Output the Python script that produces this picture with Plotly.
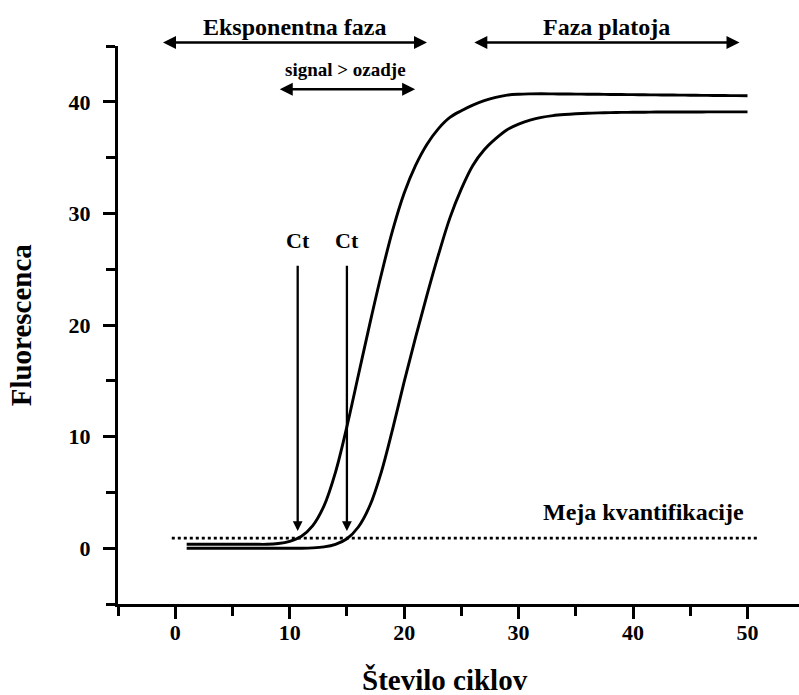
import plotly.graph_objects as go

# PCR cycle numbers and fluorescence readings for two amplification curves
cycles = list(range(1, 51))
fluor_early = [
    0.35, 0.35, 0.35, 0.35, 0.35, 0.35, 0.35, 0.35, 0.42, 0.62,
    1.05, 2.00, 3.80, 6.80, 10.9, 15.5, 20.1, 24.5, 28.5, 31.8,
    34.3, 36.2, 37.6, 38.6, 39.2, 39.7, 40.1, 40.4, 40.6, 40.68,
    40.71, 40.72, 40.71, 40.70, 40.69, 40.68, 40.67, 40.66, 40.65, 40.64,
    40.63, 40.62, 40.61, 40.60, 40.59, 40.58, 40.57, 40.56, 40.55, 40.54,
]
fluor_late = [
    0.00, 0.00, 0.00, 0.00, 0.00, 0.00, 0.00, 0.00, 0.00, 0.00,
    0.00, 0.03, 0.12, 0.35, 0.85, 1.90, 3.80, 6.80, 10.7, 14.9,
    18.9, 22.7, 26.3, 29.6, 32.2, 34.3, 35.7, 36.7, 37.5, 38.0,
    38.35, 38.6, 38.76, 38.86, 38.93, 38.98, 39.01, 39.03, 39.05, 39.06,
    39.07, 39.08, 39.08, 39.09, 39.09, 39.09, 39.10, 39.10, 39.10, 39.10,
]

# quantification threshold and the cycles where each curve crosses it
threshold = 0.9
threshold_span = [-0.3, 51.0]
ct_values = [10.7, 15.0]
ct_arrow_top = 25.45
ct_arrow_tip = 1.55
ct_label_y = 27.6

# phase ranges (cycles) shown with double-headed arrows
exp_phase = [-1.2, 22.0]
plateau_phase = [26.0, 49.3]
signal_range = [9.0, 20.96]
signal_level = 41.13

x_range = [-5, 54.5]
y_range = [-5, 45]

FONT = "Liberation Serif"
INK = "#000000"

fig = go.Figure()

for series in (fluor_early, fluor_late):
    fig.add_trace(go.Scatter(
        x=cycles, y=series, mode="lines",
        line=dict(color=INK, width=2.9, shape="spline", smoothing=1.0),
        showlegend=False, hoverinfo="skip",
    ))
fig.add_trace(go.Scatter(
    x=threshold_span, y=[threshold, threshold], mode="lines",
    line=dict(color=INK, width=2.6, dash="3px,3px"),
    showlegend=False, hoverinfo="skip",
))


def paper_y(v):
    return (v - y_range[0]) / (y_range[1] - y_range[0])


def paper_x(v):
    return (v - x_range[0]) / (x_range[1] - x_range[0])


annotations = []

# double-headed phase arrows above the plot
for lo, hi in (exp_phase, plateau_phase):
    annotations.append(dict(
        x=hi, ax=lo, xref="x", axref="x",
        y=paper_y(45.31), yref="paper", ay=0, ayref="pixel",
        text="", showarrow=True, arrowside="end+start",
        arrowhead=2, arrowsize=1.0, arrowwidth=2.6, arrowcolor=INK,
    ))
annotations.append(dict(
    x=signal_range[1], ax=signal_range[0], xref="x", axref="x",
    y=signal_level, yref="y", ay=0, ayref="pixel",
    text="", showarrow=True, arrowside="end+start",
    arrowhead=2, arrowsize=1.0, arrowwidth=2.6, arrowcolor=INK,
))

# Ct arrows pointing down to the threshold
for ct in ct_values:
    annotations.append(dict(
        x=ct, y=ct_arrow_tip, xref="x", yref="y",
        ax=ct, ay=ct_arrow_top, axref="x", ayref="y",
        text="", showarrow=True, arrowhead=2, arrowsize=0.85,
        arrowwidth=2.3, arrowcolor=INK,
    ))
    annotations.append(dict(
        x=ct, y=ct_label_y, xref="x", yref="y", text="Ct",
        showarrow=False, font=dict(family=FONT, size=22, color=INK, weight="bold"),
    ))

annotations += [
    dict(x=10.4, y=paper_y(45.0) + 0.034, xref="x", yref="paper",
         xanchor="center", yanchor="middle",
         text="Eksponentna faza", showarrow=False,
         font=dict(family=FONT, size=24, color=INK, weight="bold")),
    dict(x=37.7, y=paper_y(45.0) + 0.034, xref="x", yref="paper",
         xanchor="center", yanchor="middle",
         text="Faza platoja", showarrow=False,
         font=dict(family=FONT, size=24, color=INK, weight="bold")),
    dict(x=14.9, y=42.9, xref="x", yref="y",
         text="signal &gt; ozadje", showarrow=False,
         font=dict(family=FONT, size=19, color=INK, weight="bold")),
    dict(x=40.9, y=3.2, xref="x", yref="y",
         text="Meja kvantifikacije", showarrow=False,
         font=dict(family=FONT, size=24, color=INK, weight="bold")),
    # axis titles
    dict(x=paper_x(23.6), y=-0.137, xref="paper", yref="paper",
         xanchor="center", yanchor="middle",
         text="Število ciklov", showarrow=False,
         font=dict(family=FONT, size=29, color=INK, weight="bold")),
    dict(x=-0.142, y=paper_y(20.0), xref="paper", yref="paper",
         xanchor="center", yanchor="middle", textangle=-90,
         text="Fluorescenca", showarrow=False,
         font=dict(family=FONT, size=29, color=INK, weight="bold")),
]

axis_common = dict(
    showline=True, linecolor=INK, linewidth=3.4,
    showgrid=False, zeroline=False,
    ticks="outside", ticklen=12, tickwidth=3, tickcolor=INK,
    tickfont=dict(family=FONT, size=22, color=INK, weight="bold"),
    minor=dict(dtick=5, ticks="outside", ticklen=9, tickwidth=3, tickcolor=INK),
)

fig.update_layout(
    width=799, height=695,
    margin=dict(l=118, r=0, t=46, b=91),
    paper_bgcolor="white", plot_bgcolor="white",
    xaxis=dict(range=x_range, tick0=0, dtick=10, ticklabelstandoff=-6,
               **axis_common),
    yaxis=dict(range=y_range, tick0=0, dtick=10, ticklabelstandoff=8,
               **axis_common),
    annotations=annotations,
)

fig.write_html("out.html")
